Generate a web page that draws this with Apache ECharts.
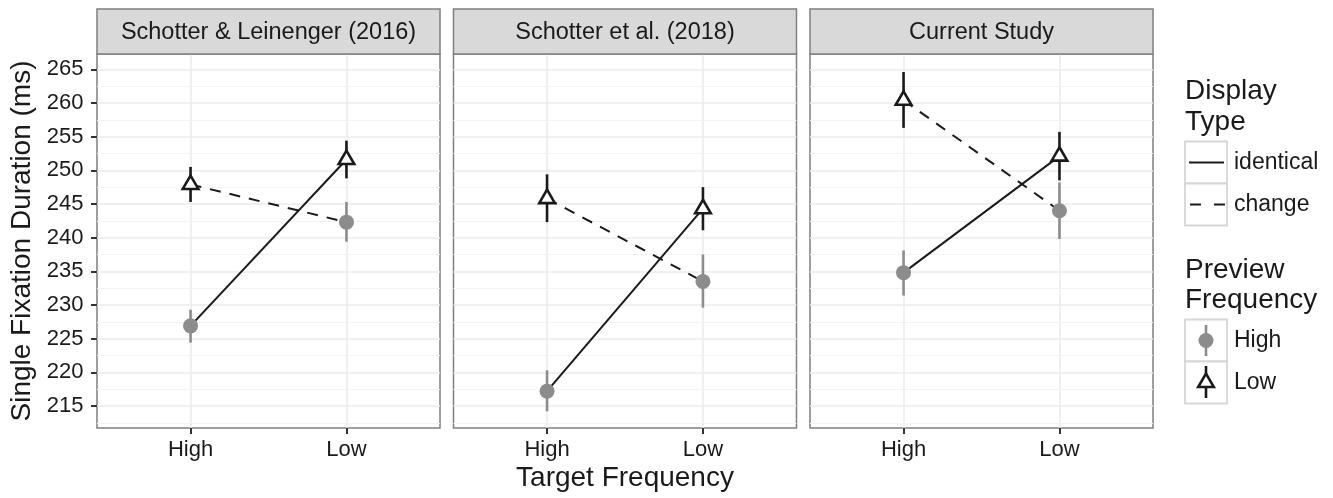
<!DOCTYPE html>
<html><head><meta charset="utf-8">
<script src="https://cdn.jsdelivr.net/npm/echarts@6/dist/echarts.min.js"></script>
<style>html,body{margin:0;padding:0;background:#fff}#c{width:1333px;height:498px}</style>
</head><body><div id="c"></div>
<script>
// ---------- data ----------
const studies = ['Schotter & Leinenger (2016)', 'Schotter et al. (2018)', 'Current Study'];
const targetFreq = ['High', 'Low'];
const yTicks = [215, 220, 225, 230, 235, 240, 245, 250, 255, 260, 265];
const yMinor = [212.5, 217.5, 222.5, 227.5, 232.5, 237.5, 242.5, 247.5, 252.5, 257.5, 262.5];
// Preview frequency = High (grey circles), per study: [target High, target Low]
const prevHighMean  = [[226.9, 242.3], [217.2, 233.5], [234.8, 244.0]];
const prevHighLower = [[224.4, 239.4], [214.2, 229.6], [231.4, 239.8]];
const prevHighUpper = [[229.3, 245.3], [220.3, 237.5], [238.1, 248.2]];
// Preview frequency = Low (open triangles)
const prevLowMean  = [[247.9, 251.6], [245.8, 244.3], [260.4, 252.1]];
const prevLowLower = [[245.3, 248.8], [242.3, 241.1], [256.3, 248.5]];
const prevLowUpper = [[250.5, 254.4], [249.4, 247.5], [264.6, 255.7]];

// ---------- style ----------
const FONT = "'Liberation Sans', Arial, Helvetica, sans-serif";
const INK = '#1a1a1a';
const GREY_PT = '#8c8c8c';
const gridLefts = [97, 453.5, 810];
const gridW = 343, gridTop = 54, gridBottom = 70;
const stripTop = 9;
const yMin = 211.73, yMax = 267.27;
const TRI = { hw: 7.8, up: 8.9, down: 4.5 };

const grids = [], xAxes = [], yAxes = [], series = [], graphics = [];

function triPoints(cx, cy) {
  return [[cx, cy - TRI.up], [cx + TRI.hw, cy + TRI.down], [cx - TRI.hw, cy + TRI.down]];
}

// point-range: error bar + symbol, drawn together so the symbol sits on the bar
function pointRange(kind) {
  return function (params, api) {
    const x = api.value(0);
    const m = api.coord([x, api.value(1)]);
    const lo = api.coord([x, api.value(2)]);
    const hi = api.coord([x, api.value(3)]);
    const color = kind === 'circle' ? GREY_PT : INK;
    const bar = { type: 'line', shape: { x1: lo[0], y1: lo[1], x2: hi[0], y2: hi[1] },
                  style: { stroke: color, lineWidth: 2.6 }, z2: 1 };
    const sym = kind === 'circle'
      ? { type: 'circle', shape: { cx: m[0], cy: m[1], r: 7.5 }, style: { fill: GREY_PT }, z2: 2 }
      : { type: 'polygon', shape: { points: triPoints(m[0], m[1]) },
          style: { fill: '#fff', stroke: INK, lineWidth: 2.6, lineJoin: 'miter' }, z2: 2 };
    return { type: 'group', children: [bar, sym] };
  };
}

studies.forEach((name, i) => {
  grids.push({ left: gridLefts[i], top: gridTop, width: gridW, bottom: gridBottom,
    show: true, backgroundColor: '#fff', borderColor: '#7f7f7f', borderWidth: 1.5 });
  xAxes.push({ type: 'value', gridIndex: i, min: 0.4, max: 2.6,
    axisLine: { show: false },
    axisTick: { show: true, customValues: [1, 2], length: 6, lineStyle: { color: '#333', width: 2 } },
    axisLabel: { show: true, customValues: [1, 2], formatter: v => targetFreq[Math.round(v) - 1],
      margin: 11, fontSize: 22, color: INK, fontFamily: FONT },
    splitLine: { show: true, lineStyle: { color: '#ebebeb', width: 1.5 } } });
  yAxes.push({ type: 'value', gridIndex: i, min: yMin, max: yMax,
    axisLine: { show: false },
    axisTick: { show: i === 0, customValues: yTicks, length: 6, lineStyle: { color: '#333', width: 2 } },
    axisLabel: { show: i === 0, customValues: yTicks, margin: 13.5, fontSize: 22, color: INK, fontFamily: FONT },
    splitLine: { show: true, lineStyle: { color: '#ebebeb', width: 1.5 } } });

  // minor grid lines
  series.push({ type: 'line', xAxisIndex: i, yAxisIndex: i, data: [], z: 1, silent: true,
    markLine: { silent: true, z: 1, symbol: 'none', label: { show: false }, animation: false,
      lineStyle: { color: '#f3f3f3', width: 1, type: 'solid' },
      emphasis: { disabled: true },
      data: yMinor.map(v => ({ yAxis: v })) } });

  // lines: identical (solid) and change (dashed)
  series.push({ type: 'line', name: 'identical', xAxisIndex: i, yAxisIndex: i, z: 2,
    symbol: 'none', silent: true, lineStyle: { color: INK, width: 2, type: 'solid' },
    data: [[1, prevHighMean[i][0]], [2, prevLowMean[i][1]]] });
  series.push({ type: 'line', name: 'change', xAxisIndex: i, yAxisIndex: i, z: 2,
    symbol: 'none', silent: true, lineStyle: { color: INK, width: 2, type: [11, 9] },
    data: [[1, prevLowMean[i][0]], [2, prevHighMean[i][1]]] });

  // point ranges
  series.push({ type: 'custom', name: 'High', xAxisIndex: i, yAxisIndex: i, z: 4, silent: true,
    renderItem: pointRange('circle'), encode: { x: 0, y: [1, 2, 3] },
    data: [0, 1].map(t => [t + 1, prevHighMean[i][t], prevHighLower[i][t], prevHighUpper[i][t]]) });
  series.push({ type: 'custom', name: 'Low', xAxisIndex: i, yAxisIndex: i, z: 5, silent: true,
    renderItem: pointRange('triangle'), encode: { x: 0, y: [1, 2, 3] },
    data: [0, 1].map(t => [t + 1, prevLowMean[i][t], prevLowLower[i][t], prevLowUpper[i][t]]) });

  // strip
  graphics.push({ type: 'rect', shape: { x: gridLefts[i], y: stripTop, width: gridW, height: gridTop - stripTop },
    style: { fill: '#d9d9d9', stroke: '#7f7f7f', lineWidth: 1.5 }, z: 10 });
  graphics.push({ type: 'text', x: gridLefts[i] + gridW / 2, y: 32.5,
    style: { text: name, fontSize: 23.5, fontFamily: FONT, fill: INK, align: 'center', verticalAlign: 'middle' }, z: 11 });
});

// axis titles
graphics.push({ type: 'text', x: 625, y: 478,
  style: { text: 'Target Frequency', fontSize: 28, fontFamily: FONT, fill: INK, align: 'center', verticalAlign: 'middle' } });
graphics.push({ type: 'text', x: 22.5, y: 241, rotation: Math.PI / 2,
  style: { text: 'Single Fixation Duration (ms)', fontSize: 28, fontFamily: FONT, fill: INK, align: 'center', verticalAlign: 'middle' } });

// legends
const LX = 1185, KS = 42, LTX = 1234;
const legTitle = (t, y) => graphics.push({ type: 'text', x: LX, y: y,
  style: { text: t, fontSize: 28, fontFamily: FONT, fill: INK, align: 'left', verticalAlign: 'middle' } });
const legLabel = (t, y) => graphics.push({ type: 'text', x: LTX, y: y,
  style: { text: t, fontSize: 23, fontFamily: FONT, fill: INK, align: 'left', verticalAlign: 'middle' } });
const keyBox = y => graphics.push({ type: 'rect', shape: { x: LX, y: y, width: KS, height: KS },
  style: { fill: '#fff', stroke: '#d6d6d6', lineWidth: 1.8 } });

legTitle('Display', 91.7);
legTitle('Type', 122.5);
keyBox(141.5); keyBox(183.5);
graphics.push({ type: 'line', shape: { x1: LX + 4, y1: 162.5, x2: LX + 39, y2: 162.5 }, style: { stroke: INK, lineWidth: 2 }, z: 2 });
graphics.push({ type: 'line', shape: { x1: LX + 5, y1: 204.5, x2: LX + 40, y2: 204.5 }, style: { stroke: INK, lineWidth: 2, lineDash: [11, 13] }, z: 2 });
legLabel('identical', 162.5);
legLabel('change', 204.5);

legTitle('Preview', 270.2);
legTitle('Frequency', 300.5);
keyBox(319.5); keyBox(361.5);
graphics.push({ type: 'line', shape: { x1: LX + 21, y1: 325, x2: LX + 21, y2: 356 }, style: { stroke: GREY_PT, lineWidth: 2.6 }, z: 2 });
graphics.push({ type: 'circle', shape: { cx: LX + 21, cy: 340.5, r: 7.5 }, style: { fill: GREY_PT }, z: 3 });
graphics.push({ type: 'line', shape: { x1: LX + 21, y1: 366, x2: LX + 21, y2: 398 }, style: { stroke: INK, lineWidth: 2.6 }, z: 2 });
graphics.push({ type: 'polygon', shape: { points: triPoints(LX + 21, 382.5) },
  style: { fill: '#fff', stroke: INK, lineWidth: 2.6 }, z: 3 });
legLabel('High', 340.5);
legLabel('Low', 382.5);

const chart = echarts.init(document.getElementById('c'), null, { renderer: 'canvas' });
chart.setOption({
  animation: false,
  backgroundColor: '#fff',
  grid: grids, xAxis: xAxes, yAxis: yAxes, series: series,
  graphic: graphics
});
</script></body></html>
